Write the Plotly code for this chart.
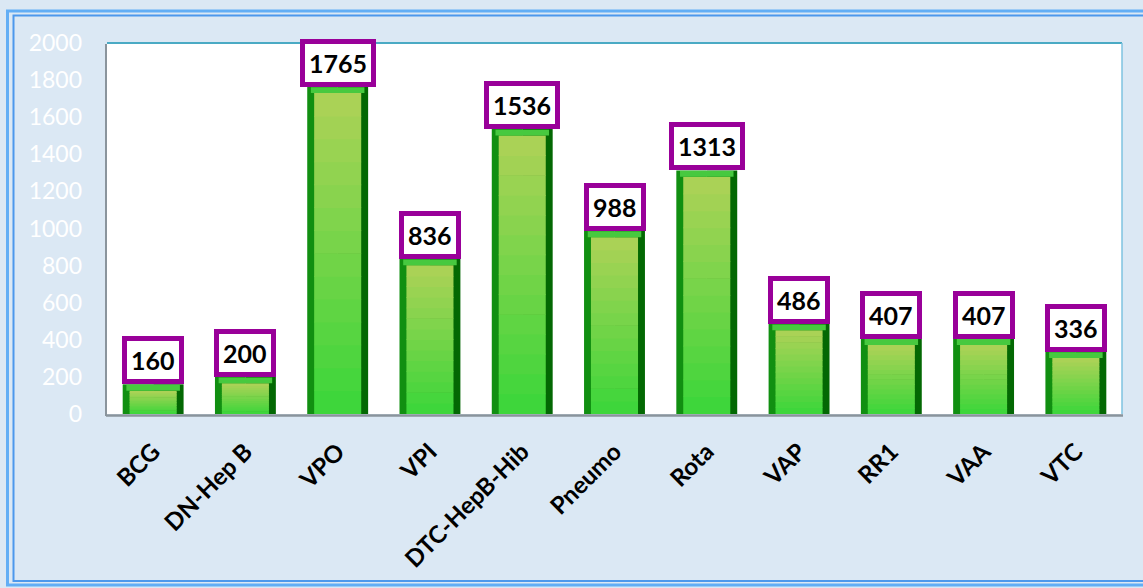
import plotly.graph_objects as go

categories = ["BCG", "DN-Hep B", "VPO", "VPI", "DTC-HepB-Hib", "Pneumo", "Rota", "VAP", "RR1", "VAA", "VTC"]
values = [160, 200, 1765, 836, 1536, 988, 1313, 486, 407, 407, 336]
y_ticks = [0, 200, 400, 600, 800, 1000, 1200, 1400, 1600, 1800, 2000]

W, H = 1143, 588
ML, MR, MT, MB = 107, 21, 43, 174
PW, PH = W - ML - MR, H - MT - MB
YMAX = 2000

def px_x(px):
    return (px - ML) / PW

def px_y(py):
    return (H - MB - py) / PH

def lerp(c1, c2, t):
    a = [int(c1[i:i + 2], 16) for i in (1, 3, 5)]
    b = [int(c2[i:i + 2], 16) for i in (1, 3, 5)]
    return "rgb(%d,%d,%d)" % tuple(round(a[k] + (b[k] - a[k]) * t) for k in range(3))

fig = go.Figure()

# outer dark-green body of each bar (lighter left half, darker right half)
fig.add_trace(go.Bar(x=categories, y=values, width=0.33, offset=-0.33,
                     marker=dict(color="#118f11", line=dict(width=0)), hoverinfo="skip", showlegend=False))
fig.add_trace(go.Bar(x=categories, y=values, width=0.33, offset=0,
                     marker=dict(color="#036803", line=dict(width=0)), hoverinfo="skip", showlegend=False))

# inner gradient face
unit = YMAX / PH
top_inset = 7 * unit
N = 14
bottom_col, top_col = "#3ad63a", "#aed257"
for k in range(N):
    t0, t1 = k / N, (k + 1) / N
    bases = [t0 * (v - top_inset) for v in values]
    heights = [(t1 - t0) * (v - top_inset) + 0.6 * unit for v in values]
    fig.add_trace(go.Bar(x=categories, y=heights, base=bases, width=0.51,
                         marker=dict(color=lerp(bottom_col, top_col, (k + 0.5) / N), line=dict(width=0)),
                         hoverinfo="skip", showlegend=False))

# top bevel strip
fig.add_trace(go.Bar(x=categories, y=[top_inset - 1.2 * unit] * len(values),
                     base=[v - top_inset + 0.6 * unit for v in values], width=0.58,
                     marker=dict(color="#47c93f", line=dict(width=0)), hoverinfo="skip", showlegend=False))

annotations = []
for c, v in zip(categories, values):
    annotations.append(dict(x=c, y=v, xref="x", yref="y", text="<b>%d</b>" % v, showarrow=False,
                            yanchor="bottom", yshift=0,
                            font=dict(family="Lato", size=25, color="black"),
                            bgcolor="white", bordercolor="#990099", borderwidth=5, borderpad=4))

shapes = [
    # outer double frame
    dict(type="rect", xref="paper", yref="paper", x0=px_x(7.5), x1=px_x(1160), y0=px_y(585), y1=px_y(11),
         line=dict(color="#62aef5", width=3), layer="below"),
    dict(type="rect", xref="paper", yref="paper", x0=px_x(13.5), x1=px_x(1160), y0=px_y(581), y1=px_y(15.5),
         line=dict(color="#4d98ec", width=2), layer="below"),
    # plot area shadow
    dict(type="line", xref="paper", yref="paper", x0=px_x(106), x1=px_x(106), y0=px_y(416), y1=px_y(44),
         line=dict(color="#8a949c", width=2), layer="below"),
    dict(type="line", xref="paper", yref="paper", x0=px_x(106), x1=px_x(1123), y0=px_y(415.5), y1=px_y(415.5),
         line=dict(color="#8a949c", width=2.5), layer="below"),
    # plot area border
    dict(type="line", xref="paper", yref="paper", x0=0, x1=1, y0=1, y1=1,
         line=dict(color="#4aaac4", width=2)),
    dict(type="line", xref="paper", yref="paper", x0=1, x1=1, y0=0, y1=1,
         line=dict(color="#7ec3e0", width=1.5)),
]

fig.update_layout(
    width=W, height=H,
    margin=dict(l=ML, r=MR, t=MT, b=MB, pad=0),
    paper_bgcolor="#dbe8f4",
    plot_bgcolor="white",
    barmode="overlay",
    showlegend=False,
    annotations=annotations,
    shapes=shapes,
    xaxis=dict(tickangle=-45, tickfont=dict(family="Lato", size=24, color="black", weight="bold"),
               showgrid=False, zeroline=False, showline=False, ticks="", ticklabelstandoff=18,
               range=[-0.5, len(categories) - 0.5]),
    yaxis=dict(range=[0, YMAX], tickvals=y_ticks, ticktext=[str(t) for t in y_ticks],
               tickfont=dict(family="Lato", size=23, color="white"),
               showgrid=False, zeroline=False, showline=False, ticks="", ticklabelstandoff=24),
)

fig.write_html("out.html", config={"displayModeBar": False},
               post_script="document.body.style.margin='0';document.body.style.overflow='hidden';")
